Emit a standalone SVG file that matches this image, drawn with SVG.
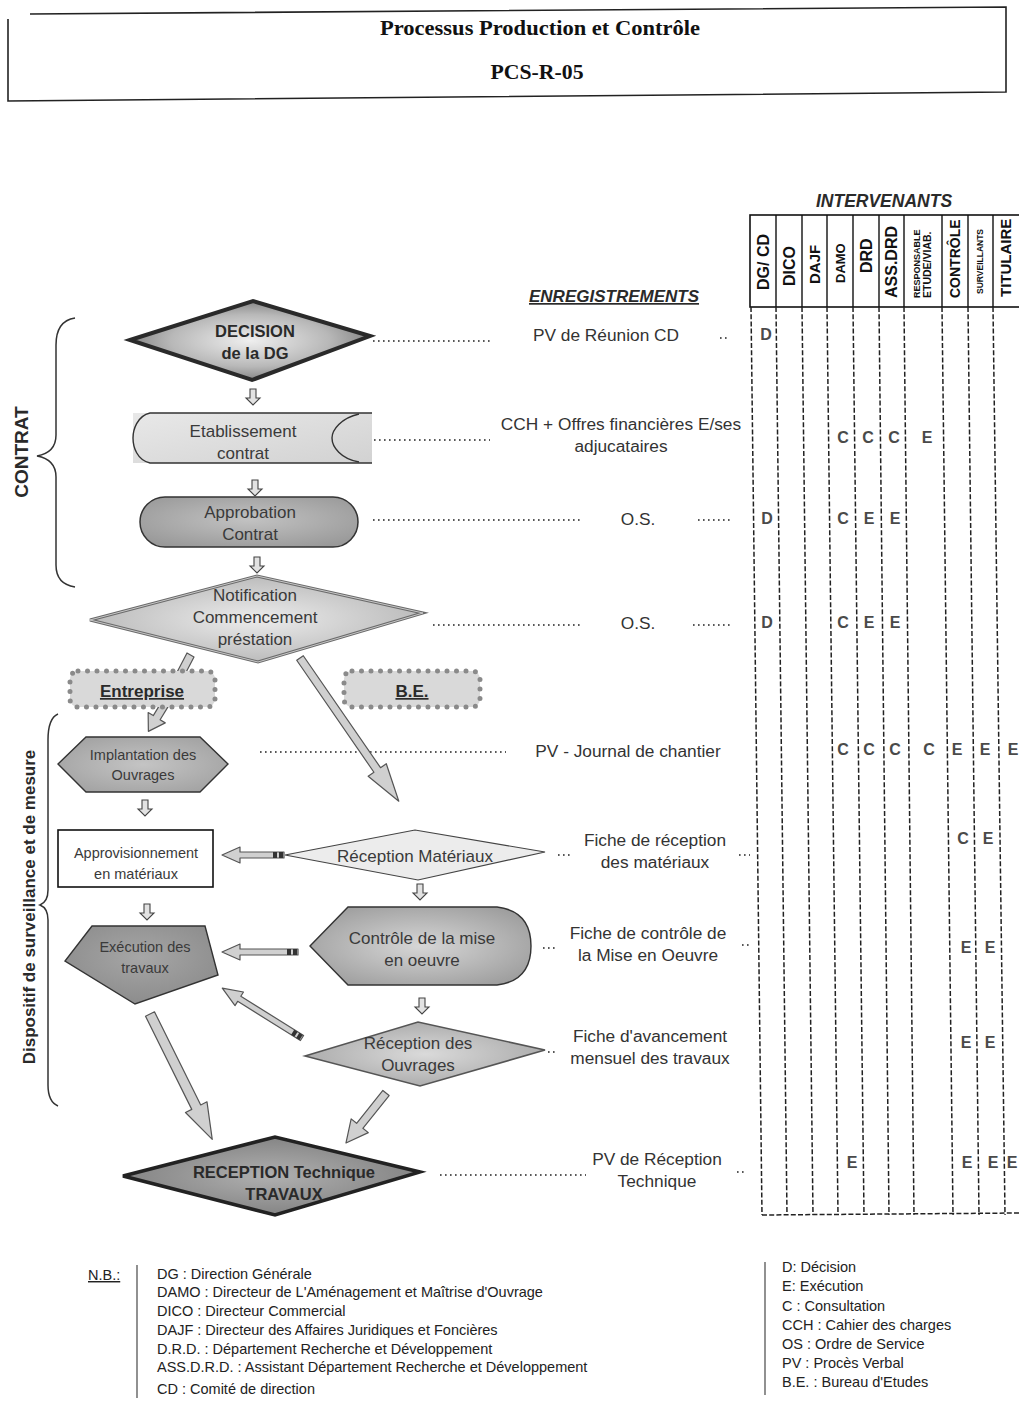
<svg xmlns="http://www.w3.org/2000/svg" width="1019" height="1401" viewBox="0 0 1019 1401">
  <style>
    text { font-family: "Liberation Sans", Arial, sans-serif; fill: #2a2a2a; }
    .serif { font-family: "Liberation Serif", "Times New Roman", serif; font-weight: bold; fill: #111; }
    .node { font-size: 17px; fill: #3a3a3a; text-anchor: middle; }
    .nodeB { font-size: 16.5px; font-weight: bold; fill: #2a2a2a; text-anchor: middle; }
    .small { font-size: 14.5px; fill: #3a3a3a; text-anchor: middle; }
    .rec { font-size: 17.3px; fill: #333; text-anchor: middle; }
    .mark { font-size: 16px; font-weight: bold; fill: #4a4a4a; text-anchor: middle; }
    .col { font-weight: bold; fill: #111; }
    .leg { font-size: 14.5px; fill: #222; }
    .dots { stroke: #222; stroke-width: 1.6; stroke-dasharray: 1.6 3.4; fill: none; }
    .colline { stroke: #222; stroke-width: 1.5; stroke-dasharray: 5 2.2; fill: none; }
    .barrow { fill: #d0d0d0; stroke: #555; stroke-width: 1.2; stroke-linejoin: round; }
    .darrow { fill: #e2e2e2; stroke: #444; stroke-width: 1.1; }
    .brace { fill: none; stroke: #333; stroke-width: 1.5; }
  </style>
  <defs>
    <radialGradient id="gDecision" cx="50%" cy="50%" r="60%">
      <stop offset="0" stop-color="#efefef"/>
      <stop offset="0.55" stop-color="#b8b8b8"/>
      <stop offset="1" stop-color="#6a6a6a"/>
    </radialGradient>
    <linearGradient id="gEtab" x1="0" y1="0" x2="1" y2="1">
      <stop offset="0" stop-color="#e8e8e8"/>
      <stop offset="1" stop-color="#d2d2d2"/>
    </linearGradient>
    <radialGradient id="gAppro" cx="50%" cy="45%" r="65%">
      <stop offset="0" stop-color="#c2c2c2"/>
      <stop offset="1" stop-color="#989898"/>
    </radialGradient>
    <radialGradient id="gNotif" cx="50%" cy="50%" r="60%">
      <stop offset="0" stop-color="#ececec"/>
      <stop offset="1" stop-color="#b2b2b2"/>
    </radialGradient>
    <radialGradient id="gHex" cx="50%" cy="50%" r="60%">
      <stop offset="0" stop-color="#c4c4c4"/>
      <stop offset="1" stop-color="#a2a2a2"/>
    </radialGradient>
    <radialGradient id="gExec" cx="50%" cy="40%" r="65%">
      <stop offset="0" stop-color="#a6a6a6"/>
      <stop offset="1" stop-color="#8a8a8a"/>
    </radialGradient>
    <radialGradient id="gCtrl" cx="50%" cy="50%" r="60%">
      <stop offset="0" stop-color="#d6d6d6"/>
      <stop offset="1" stop-color="#9e9e9e"/>
    </radialGradient>
    <radialGradient id="gRecOuv" cx="50%" cy="50%" r="60%">
      <stop offset="0" stop-color="#dadada"/>
      <stop offset="1" stop-color="#a4a4a4"/>
    </radialGradient>
    <radialGradient id="gRecTech" cx="50%" cy="50%" r="60%">
      <stop offset="0" stop-color="#b0b0b0"/>
      <stop offset="1" stop-color="#7c7c7c"/>
    </radialGradient>
    <!-- small hollow down arrow between steps -->
    <polygon id="down" class="darrow" points="-3,0 3,0 3,9 7,9 0,16 -7,9 -3,9"/>
  </defs>

  <rect width="1019" height="1401" fill="#ffffff"/>

  <!-- header frame -->
  <g id="header">
    <polyline points="8,19 8,101 1006,92 1006,7 30,14" fill="none" stroke="#222" stroke-width="1.6"/>
    <text class="serif" x="540" y="35" font-size="21" text-anchor="middle" textLength="320" lengthAdjust="spacingAndGlyphs">Processus Production et Contrôle</text>
    <text class="serif" x="537" y="79" font-size="21" text-anchor="middle" textLength="93" lengthAdjust="spacingAndGlyphs">PCS-R-05</text>
  </g>

  <!-- responsibility matrix -->
  <g id="matrix">
    <text x="884" y="207" font-size="17.5" font-weight="bold" font-style="italic" text-anchor="middle" fill="#222">INTERVENANTS</text>
    <rect x="750" y="215" width="275" height="92" fill="none" stroke="#111" stroke-width="1.6"/>
    <g stroke="#111" stroke-width="1.4">
      <line x1="776" y1="215" x2="776" y2="307"/>
      <line x1="802" y1="215" x2="802" y2="307"/>
      <line x1="827" y1="215" x2="827" y2="307"/>
      <line x1="853" y1="215" x2="853" y2="307"/>
      <line x1="879" y1="215" x2="879" y2="307"/>
      <line x1="904" y1="215" x2="904" y2="307"/>
      <line x1="942" y1="215" x2="942" y2="307"/>
      <line x1="968" y1="215" x2="968" y2="307"/>
      <line x1="993" y1="215" x2="993" y2="307"/>
    </g>
    <g class="col">
      <text class="col" font-size="16" transform="translate(769,290) rotate(-90)">DG/ CD</text>
      <text class="col" font-size="16" transform="translate(795,286) rotate(-90)">DICO</text>
      <text class="col" font-size="15" transform="translate(820,284) rotate(-90)">DAJF</text>
      <text class="col" font-size="13" transform="translate(845,283) rotate(-90)">DAMO</text>
      <text class="col" font-size="16" transform="translate(872,273) rotate(-90)">DRD</text>
      <text class="col" font-size="16" transform="translate(897,298) rotate(-90)">ASS.DRD</text>
      <text class="col" font-size="9" font-weight="normal" transform="translate(920,298) rotate(-90)">RESPONSABLE</text>
      <text class="col" font-size="10.5" transform="translate(931,298) rotate(-90)">ETUDE/VIAB.</text>
      <text class="col" font-size="14" transform="translate(960,298) rotate(-90)">CONTRÔLE</text>
      <text class="col" font-size="8.5" font-weight="normal" transform="translate(983,294) rotate(-90)">SURVEILLANTS</text>
      <text class="col" font-size="15" transform="translate(1011,297) rotate(-90)">TITULAIRE</text>
    </g>
    <g class="colline">
      <line x1="751" y1="307" x2="762" y2="1215"/>
      <line x1="776" y1="307" x2="787" y2="1215"/>
      <line x1="802" y1="307" x2="813" y2="1215"/>
      <line x1="827" y1="307" x2="838" y2="1215"/>
      <line x1="853" y1="307" x2="864" y2="1215"/>
      <line x1="879" y1="307" x2="889" y2="1215"/>
      <line x1="904" y1="307" x2="914" y2="1215"/>
      <line x1="942" y1="307" x2="953" y2="1215"/>
      <line x1="968" y1="307" x2="979" y2="1215"/>
      <line x1="993" y1="307" x2="1005" y2="1215"/>
      <line x1="762" y1="1215" x2="1019" y2="1213"/>
    </g>
    <g>
      <text class="mark" x="766" y="340">D</text>
      <text class="mark" x="843" y="443">C</text><text class="mark" x="868" y="443">C</text><text class="mark" x="894" y="443">C</text><text class="mark" x="927" y="443">E</text>
      <text class="mark" x="767" y="524">D</text><text class="mark" x="843" y="524">C</text><text class="mark" x="869" y="524">E</text><text class="mark" x="895" y="524">E</text>
      <text class="mark" x="767" y="628">D</text><text class="mark" x="843" y="628">C</text><text class="mark" x="869" y="628">E</text><text class="mark" x="895" y="628">E</text>
      <text class="mark" x="843" y="755">C</text><text class="mark" x="869" y="755">C</text><text class="mark" x="895" y="755">C</text><text class="mark" x="929" y="755">C</text><text class="mark" x="957" y="755">E</text><text class="mark" x="985" y="755">E</text><text class="mark" x="1013" y="755">E</text>
      <text class="mark" x="963" y="844">C</text><text class="mark" x="988" y="844">E</text>
      <text class="mark" x="966" y="953">E</text><text class="mark" x="990" y="953">E</text>
      <text class="mark" x="966" y="1048">E</text><text class="mark" x="990" y="1048">E</text>
      <text class="mark" x="852" y="1168">E</text><text class="mark" x="967" y="1168">E</text><text class="mark" x="993" y="1168">E</text><text class="mark" x="1012" y="1168">E</text>
    </g>
  </g>

  <!-- records column -->
  <g id="records">
    <text x="614" y="302" font-size="17" font-weight="bold" font-style="italic" text-anchor="middle" fill="#222" text-decoration="underline">ENREGISTREMENTS</text>
    <text class="rec" x="606" y="341">PV de Réunion CD</text>
    <text class="rec" x="621" y="430">CCH + Offres financières E/ses</text>
    <text class="rec" x="621" y="452">adjucataires</text>
    <text class="rec" x="638" y="525">O.S.</text>
    <text class="rec" x="638" y="629">O.S.</text>
    <text class="rec" x="628" y="757">PV - Journal de chantier</text>
    <text class="rec" x="655" y="846">Fiche de réception</text>
    <text class="rec" x="655" y="868">des matériaux</text>
    <text class="rec" x="648" y="939">Fiche de contrôle de</text>
    <text class="rec" x="648" y="961">la Mise en Oeuvre</text>
    <text class="rec" x="650" y="1042">Fiche d'avancement</text>
    <text class="rec" x="650" y="1064">mensuel des travaux</text>
    <text class="rec" x="657" y="1165">PV de Réception</text>
    <text class="rec" x="657" y="1187">Technique</text>
  </g>

  <!-- dotted leaders and connectors -->
  <g id="connectors">
    <g class="dots">
      <line x1="373" y1="341" x2="490" y2="341"/>
      <line x1="720" y1="338" x2="728" y2="338"/>
      <line x1="374" y1="440" x2="490" y2="440"/>
      <line x1="373" y1="520" x2="583" y2="520"/>
      <line x1="698" y1="520" x2="731" y2="520"/>
      <line x1="433" y1="625" x2="583" y2="625"/>
      <line x1="693" y1="625" x2="731" y2="625"/>
      <line x1="260" y1="752" x2="506" y2="752"/>
      <line x1="558" y1="855" x2="573" y2="855"/>
      <line x1="739" y1="855" x2="750" y2="855"/>
      <line x1="543" y1="948" x2="558" y2="948"/>
      <line x1="742" y1="945" x2="751" y2="945"/>
      <line x1="548" y1="1052" x2="557" y2="1052"/>
      <line x1="440" y1="1175" x2="586" y2="1175"/>
      <line x1="737" y1="1172" x2="746" y2="1172"/>
    </g>

    <!-- step arrows -->
    <use href="#down" x="253" y="389"/>
    <use href="#down" x="255" y="480"/>
    <use href="#down" x="257" y="557"/>
    <use href="#down" x="145" y="800"/>
    <use href="#down" x="420" y="884"/>
    <use href="#down" x="422" y="998"/>
    <use href="#down" x="147" y="904"/>

    <!-- Notification to Entreprise (head hidden by the box) -->
    <polygon class="barrow" points="187,653 194,657 181,682 174,678"/>
    <!-- Entreprise to Implantation -->
    <g transform="translate(165,704) rotate(121.3)">
      <polygon class="barrow" points="0,-4 16,-4 16,-10 32,0 16,10 16,4 0,4"/>
    </g>
    <!-- Notification to Réception Matériaux -->
    <g transform="translate(300,658) rotate(55.4)">
      <polygon class="barrow" points="0,-4 136,-4 136,-11 174,0 136,11 136,4 0,4"/>
    </g>
    <!-- Réception Matériaux to Approvisionnement -->
    <g transform="translate(284,855) rotate(180)">
      <polygon class="barrow" points="0,-3 44,-3 44,-8 62,0 44,8 44,3 0,3"/>
      <rect x="1" y="-3" width="4" height="6" fill="#333"/>
      <rect x="7" y="-3" width="4" height="6" fill="#333"/>
    </g>
    <!-- Contrôle to Exécution -->
    <g transform="translate(298,952) rotate(180)">
      <polygon class="barrow" points="0,-3 58,-3 58,-8 76,0 58,8 58,3 0,3"/>
      <rect x="1" y="-3" width="4" height="6" fill="#333"/>
      <rect x="7" y="-3" width="4" height="6" fill="#333"/>
    </g>
    <!-- Réception des Ouvrages to Exécution -->
    <g transform="translate(302,1038) rotate(-148)">
      <polygon class="barrow" points="0,-3 74,-3 74,-8 94,0 74,8 74,3 0,3"/>
      <rect x="1" y="-3" width="4" height="6" fill="#333"/>
      <rect x="7" y="-3" width="4" height="6" fill="#333"/>
    </g>
    <!-- Exécution to RECEPTION Technique -->
    <g transform="translate(150,1014) rotate(63.6)">
      <polygon class="barrow" points="0,-5 104,-5 104,-12 140,0 104,12 104,5 0,5"/>
    </g>
    <!-- Réception des Ouvrages to RECEPTION Technique -->
    <g transform="translate(386,1093) rotate(128.7)">
      <polygon class="barrow" points="0,-4 42,-4 42,-11 64,0 42,11 42,4 0,4"/>
    </g>
  </g>

  <!-- phase braces -->
  <g id="phase-contrat">
    <path class="brace" d="M75,318 C62,320 56,330 56,345 L56,435 C56,448 48,454 37,456 C48,458 56,464 56,477 L56,565 C56,578 62,585 75,587"/>
    <text transform="translate(28,452) rotate(-90)" font-size="19" font-weight="bold" text-anchor="middle" fill="#222">CONTRAT</text>
  </g>
  <g id="phase-dispositif">
    <path class="brace" d="M58,714 C51,717 48,725 48,740 L48,890 C48,898 45,903 40,905 C45,907 48,912 48,920 L48,1085 C48,1097 51,1103 58,1106"/>
    <text transform="translate(35,907) rotate(-90)" font-size="17" font-weight="bold" text-anchor="middle" fill="#222">Dispositif de surveillance et de mesure</text>
  </g>

  <!-- process steps -->
  <g id="decision">
    <polygon points="130,340 253,301 370,336 252,380" fill="url(#gDecision)" stroke="#2a2a2a" stroke-width="4" stroke-linejoin="miter"/>
    <text class="nodeB" x="255" y="337">DECISION</text>
    <text class="nodeB" x="255" y="359">de la DG</text>
  </g>

  <g id="etablissement">
    <rect x="133" y="413" width="239" height="50" fill="url(#gEtab)"/>
    <path d="M372,413 L150,413 C137,416 133,430 133,438 C133,447 137,460 150,463 L372,463" fill="none" stroke="#333" stroke-width="1.4"/>
    <path d="M359,414 C341,418 332,430 332,438 C332,447 341,459 359,462" fill="none" stroke="#333" stroke-width="1.4"/>
    <text class="node" x="243" y="437">Etablissement</text>
    <text class="node" x="243" y="459">contrat</text>
  </g>

  <g id="approbation">
    <rect x="140" y="497" width="218" height="50" rx="25" fill="url(#gAppro)" stroke="#333" stroke-width="1.5"/>
    <text class="node" x="250" y="518">Approbation</text>
    <text class="node" x="250" y="540">Contrat</text>
  </g>

  <g id="notification">
    <polygon points="90,620 257,576 423,613 258,662" fill="url(#gNotif)" stroke="#6a6a6a" stroke-width="3"/>
    <polygon points="90,620 257,576 423,613 258,662" fill="none" stroke="#c8c8c8" stroke-width="1"/>
    <text class="node" x="255" y="601">Notification</text>
    <text class="node" x="255" y="623">Commencement</text>
    <text class="node" x="255" y="645">préstation</text>
  </g>

  <g id="entreprise">
    <rect x="70" y="671" width="145" height="36" rx="8" fill="#d9d9d9" stroke="#8a8a8a" stroke-width="5" stroke-linecap="round" stroke-dasharray="0 9.5"/>
    <text x="142" y="697" font-size="17" font-weight="bold" text-anchor="middle" fill="#333" text-decoration="underline">Entreprise</text>
  </g>

  <g id="be">
    <rect x="344" y="671" width="136" height="36" rx="8" fill="#d9d9d9" stroke="#8a8a8a" stroke-width="5" stroke-linecap="round" stroke-dasharray="0 9.5"/>
    <text x="412" y="697" font-size="17" font-weight="bold" text-anchor="middle" fill="#333" text-decoration="underline">B.E.</text>
  </g>

  <g id="implantation">
    <polygon points="58,764 86,737 200,737 228,764 200,792 86,792" fill="url(#gHex)" stroke="#333" stroke-width="1.4"/>
    <text class="small" x="143" y="760">Implantation des</text>
    <text class="small" x="143" y="780">Ouvrages</text>
  </g>

  <g id="approvisionnement">
    <rect x="58" y="830" width="155" height="57" fill="#ffffff" stroke="#111" stroke-width="1.6"/>
    <text class="small" x="136" y="858" fill="#222">Approvisionnement</text>
    <text class="small" x="136" y="879" fill="#222">en matériaux</text>
  </g>

  <g id="reception-materiaux">
    <polygon points="285,855 415,830 545,852 418,880" fill="#ececec" stroke="#444" stroke-width="1.2"/>
    <text class="node" x="415" y="862" font-size="16.5">Réception Matériaux</text>
  </g>

  <g id="execution">
    <polygon points="92,926 205,926 218,975 135,1004 65,961" fill="url(#gExec)" stroke="#333" stroke-width="1.4"/>
    <text class="small" x="145" y="952">Exécution des</text>
    <text class="small" x="145" y="973">travaux</text>
  </g>

  <g id="controle">
    <path d="M310,946 L348,907 L497,907 Q531,911 531,946 Q531,981 497,985 L348,985 Z" fill="url(#gCtrl)" stroke="#333" stroke-width="1.4"/>
    <text class="node" x="422" y="944" font-size="16.5">Contrôle de la mise</text>
    <text class="node" x="422" y="966" font-size="16.5">en oeuvre</text>
  </g>

  <g id="reception-ouvrages">
    <polygon points="305,1056 418,1022 545,1050 420,1086" fill="url(#gRecOuv)" stroke="#555" stroke-width="1.6"/>
    <text class="node" x="418" y="1049" font-size="16.5">Réception des</text>
    <text class="node" x="418" y="1071" font-size="16.5">Ouvrages</text>
  </g>

  <g id="reception-technique">
    <polygon points="123,1176 275,1137 420,1172 275,1215" fill="url(#gRecTech)" stroke="#222" stroke-width="3.5"/>
    <text class="nodeB" x="284" y="1178" font-size="16.5">RECEPTION Technique</text>
    <text class="nodeB" x="284" y="1200" font-size="16.5">TRAVAUX</text>
  </g>

  <!-- abbreviations -->
  <g id="legend">
    <text class="leg" x="88" y="1280" text-decoration="underline">N.B.:</text>
    <line x1="137" y1="1265" x2="137" y2="1398" stroke="#555" stroke-width="1.3"/>
    <text class="leg" x="157" y="1279">DG : Direction Générale</text>
    <text class="leg" x="157" y="1297">DAMO : Directeur de L'Aménagement et Maîtrise d'Ouvrage</text>
    <text class="leg" x="157" y="1316">DICO : Directeur Commercial</text>
    <text class="leg" x="157" y="1335">DAJF : Directeur des Affaires Juridiques et Foncières</text>
    <text class="leg" x="157" y="1354">D.R.D. : Département Recherche et Développement</text>
    <text class="leg" x="157" y="1372">ASS.D.R.D. : Assistant Département Recherche et Développement</text>
    <text class="leg" x="157" y="1394">CD : Comité de direction</text>

    <line x1="765" y1="1262" x2="765" y2="1395" stroke="#555" stroke-width="1.3"/>
    <text class="leg" x="782" y="1272">D: Décision</text>
    <text class="leg" x="782" y="1291">E: Exécution</text>
    <text class="leg" x="782" y="1311">C : Consultation</text>
    <text class="leg" x="782" y="1330">CCH : Cahier des charges</text>
    <text class="leg" x="782" y="1349">OS : Ordre de Service</text>
    <text class="leg" x="782" y="1368">PV : Procès Verbal</text>
    <text class="leg" x="782" y="1387">B.E. : Bureau d'Etudes</text>
  </g>
</svg>
